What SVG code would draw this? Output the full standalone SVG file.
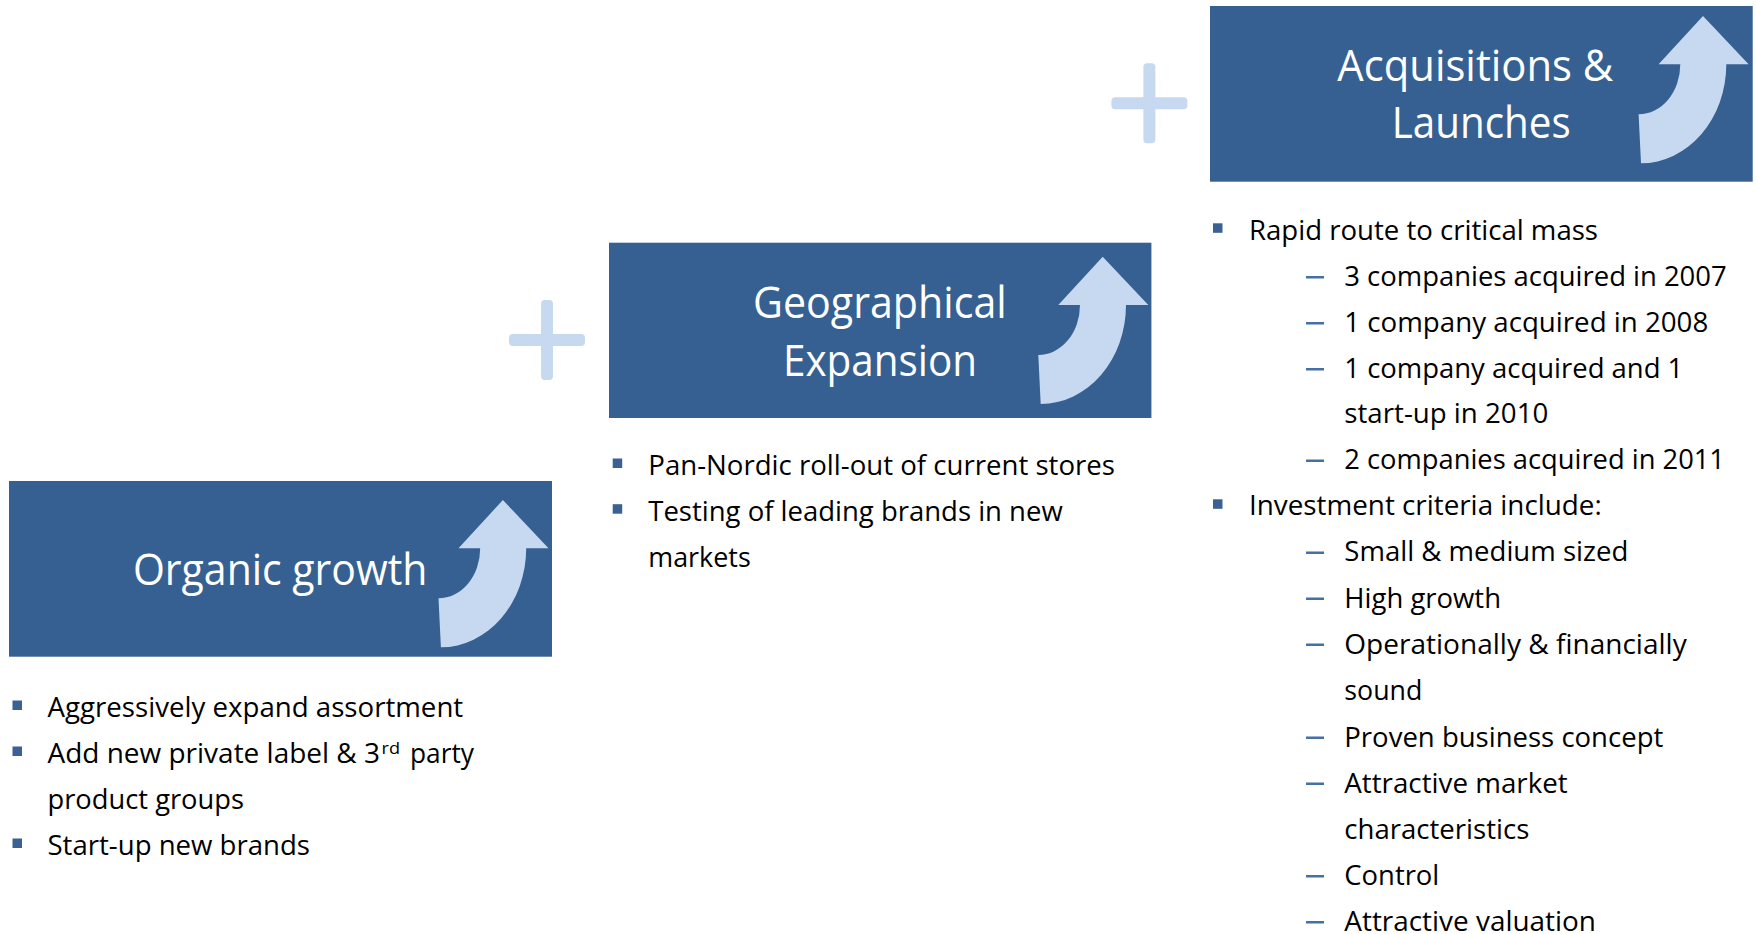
<svg xmlns="http://www.w3.org/2000/svg" xmlns:xlink="http://www.w3.org/1999/xlink" width="1756" height="934" viewBox="0 0 1756 934">
  <style>
    .box { fill: #376092; }
    .arrow { fill: #C6D9F1; }
    .plus { fill: #C6D9F1; }
    .title { font-family: "Open Sans", "Liberation Sans", sans-serif; font-size: 43px; fill: #FFFFFF; }
    .body { font-family: "Open Sans", "Liberation Sans", sans-serif; font-size: 27px; fill: #000000; }
    .sup { font-family: "Open Sans", "Liberation Sans", sans-serif; font-size: 17px; fill: #000000; }
    .sq { fill: #3A6191; }
    .dash { fill: #4470A3; }
  </style>
  <defs>
    <!-- curved upward arrow, origin at the arrow tip -->
    <path id="upArrow" class="arrow" d="M0,0 L45.6,48.3 L23.3,48.3 A85.3,99 0 0 1 -62,147.3 L-64.4,98.3 A41.7,50 0 0 0 -22.7,48.3 L-44.4,48.3 Z"/>
    <!-- plus separator, origin at its centre -->
    <g id="plusSign" class="plus">
      <rect x="-38" y="-6" width="76" height="12" rx="4"/>
      <rect x="-6" y="-40" width="12" height="80" rx="4"/>
    </g>
  </defs>

  <rect width="1756" height="934" fill="#FFFFFF"/>

  <!-- plus separators between the stages -->
  <g id="separators">
    <use xlink:href="#plusSign" href="#plusSign" transform="translate(547,340)"/>
    <use xlink:href="#plusSign" href="#plusSign" transform="translate(1149.4,103.3)"/>
  </g>

  <!-- Stage 1 -->
  <g id="organic">
    <rect class="box" x="9" y="481" width="543" height="175.7"/>
    <use xlink:href="#upArrow" href="#upArrow" transform="translate(502.9,500)"/>
    <text class="title" x="133" y="585" textLength="294.5" lengthAdjust="spacingAndGlyphs">Organic growth</text>
  </g>
  <g id="organic-points">
    <rect class="sq" x="12.5" y="700.5" width="9.5" height="9.5"/>
    <text class="body" x="47.5" y="716.7" textLength="415.7" lengthAdjust="spacingAndGlyphs">Aggressively expand assortment</text>
    <rect class="sq" x="12.5" y="746.5" width="9.5" height="9.5"/>
    <text class="body" x="47.5" y="762.7" textLength="332.5" lengthAdjust="spacingAndGlyphs">Add new private label &amp; 3</text>
    <text class="sup" x="381.5" y="754" textLength="18.5" lengthAdjust="spacingAndGlyphs">rd</text>
    <text class="body" x="410" y="762.7" textLength="64" lengthAdjust="spacingAndGlyphs">party</text>
    <text class="body" x="47.5" y="808.7" textLength="196.5" lengthAdjust="spacingAndGlyphs">product groups</text>
    <rect class="sq" x="12.5" y="838.5" width="9.5" height="9.5"/>
    <text class="body" x="47.5" y="854.7" textLength="262.5" lengthAdjust="spacingAndGlyphs">Start-up new brands</text>
  </g>

  <!-- Stage 2 -->
  <g id="geo">
    <rect class="box" x="609" y="242.7" width="542.4" height="175.3"/>
    <use xlink:href="#upArrow" href="#upArrow" transform="translate(1102.7,256.7)"/>
    <text class="title" x="753" y="318" textLength="253.7" lengthAdjust="spacingAndGlyphs">Geographical</text>
    <text class="title" x="783" y="375.7" textLength="194" lengthAdjust="spacingAndGlyphs">Expansion</text>
  </g>
  <g id="geo-points">
    <rect class="sq" x="612.7" y="458.5" width="9.5" height="9.5"/>
    <text class="body" x="648.3" y="475" textLength="466.7" lengthAdjust="spacingAndGlyphs">Pan-Nordic roll-out of current stores</text>
    <rect class="sq" x="612.7" y="504.2" width="9.5" height="9.5"/>
    <text class="body" x="648.3" y="520.7" textLength="414.4" lengthAdjust="spacingAndGlyphs">Testing of leading brands in new</text>
    <text class="body" x="648.3" y="566.7" textLength="102.4" lengthAdjust="spacingAndGlyphs">markets</text>
  </g>

  <!-- Stage 3 -->
  <g id="acq">
    <rect class="box" x="1210" y="6" width="542.7" height="175.7"/>
    <use xlink:href="#upArrow" href="#upArrow" transform="translate(1703,16)"/>
    <text class="title" x="1337.3" y="80.7" textLength="276" lengthAdjust="spacingAndGlyphs">Acquisitions &amp;</text>
    <text class="title" x="1391.7" y="138.3" textLength="179" lengthAdjust="spacingAndGlyphs">Launches</text>
  </g>
  <g id="acq-points">
    <rect class="sq" x="1213" y="223.3" width="9.5" height="9.5"/>
    <text class="body" x="1249" y="240" textLength="349" lengthAdjust="spacingAndGlyphs">Rapid route to critical mass</text>

    <rect class="dash" x="1306" y="276" width="18" height="2.5"/>
    <text class="body" x="1344.3" y="286" textLength="382.4" lengthAdjust="spacingAndGlyphs">3 companies acquired in 2007</text>
    <rect class="dash" x="1306" y="322" width="18" height="2.5"/>
    <text class="body" x="1344.3" y="331.8" textLength="364" lengthAdjust="spacingAndGlyphs">1 company acquired in 2008</text>
    <rect class="dash" x="1306" y="368" width="18" height="2.5"/>
    <text class="body" x="1344.3" y="377.5" textLength="339" lengthAdjust="spacingAndGlyphs">1 company acquired and 1</text>
    <text class="body" x="1344.3" y="423" textLength="204" lengthAdjust="spacingAndGlyphs">start-up in 2010</text>
    <rect class="dash" x="1306" y="459.5" width="18" height="2.5"/>
    <text class="body" x="1344.3" y="469.3" textLength="380.7" lengthAdjust="spacingAndGlyphs">2 companies acquired in 2011</text>

    <rect class="sq" x="1213" y="499.3" width="9.5" height="9.5"/>
    <text class="body" x="1249" y="515.3" textLength="352.7" lengthAdjust="spacingAndGlyphs">Investment criteria include:</text>

    <rect class="dash" x="1306" y="551.5" width="18" height="2.5"/>
    <text class="body" x="1344.3" y="561.3" textLength="284" lengthAdjust="spacingAndGlyphs">Small &amp; medium sized</text>
    <rect class="dash" x="1306" y="597.5" width="18" height="2.5"/>
    <text class="body" x="1344.3" y="607.5" textLength="156.7" lengthAdjust="spacingAndGlyphs">High growth</text>
    <rect class="dash" x="1306" y="643.5" width="18" height="2.5"/>
    <text class="body" x="1344.3" y="653.5" textLength="342.4" lengthAdjust="spacingAndGlyphs">Operationally &amp; financially</text>
    <text class="body" x="1344.3" y="700" textLength="78" lengthAdjust="spacingAndGlyphs">sound</text>
    <rect class="dash" x="1306" y="736.5" width="18" height="2.5"/>
    <text class="body" x="1344.3" y="746.5" textLength="319" lengthAdjust="spacingAndGlyphs">Proven business concept</text>
    <rect class="dash" x="1306" y="782.5" width="18" height="2.5"/>
    <text class="body" x="1344.3" y="792.5" textLength="223.4" lengthAdjust="spacingAndGlyphs">Attractive market</text>
    <text class="body" x="1344.3" y="838.5" textLength="185" lengthAdjust="spacingAndGlyphs">characteristics</text>
    <rect class="dash" x="1306" y="875" width="18" height="2.5"/>
    <text class="body" x="1344.3" y="885" textLength="95" lengthAdjust="spacingAndGlyphs">Control</text>
    <rect class="dash" x="1306" y="921" width="18" height="2.5"/>
    <text class="body" x="1344.3" y="931" textLength="251.7" lengthAdjust="spacingAndGlyphs">Attractive valuation</text>
  </g>
</svg>
